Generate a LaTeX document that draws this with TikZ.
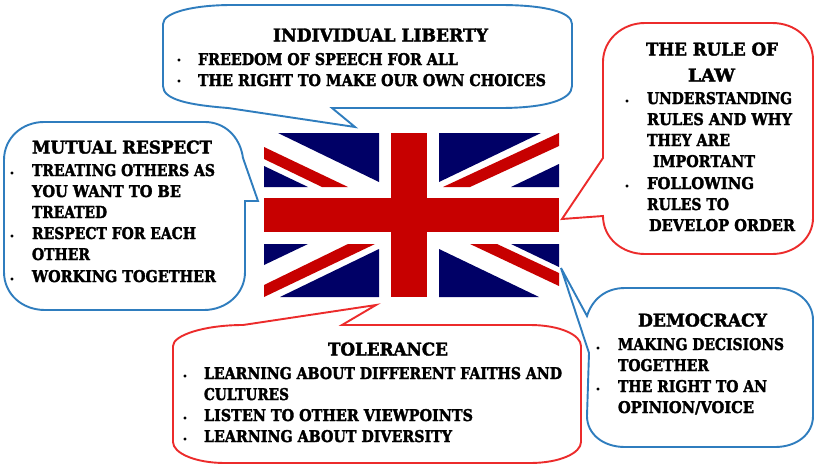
\documentclass[tikz,border=0pt]{standalone}
\usepackage{fontspec}
\usepackage{graphicx}
\setmainfont{DejaVu Serif}[BoldFont={DejaVu Serif Bold},BoldFeatures={FakeBold=2.2}]
\definecolor{bubbleblue}{HTML}{2F7DBE}
\definecolor{bubblered}{HTML}{EC2B2B}
\definecolor{flagblue}{HTML}{000066}
\definecolor{flagred}{HTML}{C70000}
% a line of text fitted to a measured width (pt) and cap height (pt)
\newcommand{\fitted}[3]{\raisebox{0pt}[#2pt][0pt]{\resizebox{#1pt}{#2pt}{\bfseries #3}}}
\newcommand{\ttl}[2]{\fitted{#1}{13}{#2}}
\newcommand{\bdy}[2]{\fitted{#1}{12}{#2}}
\tikzset{
  bubbleB/.style={draw=bubbleblue,line width=1.9pt,fill=white,line join=miter},
  bubbleR/.style={draw=bubblered,line width=1.9pt,fill=white,line join=miter},
  blueT/.style={fill=flagblue},
  redT/.style={fill=flagred},
  txt/.style={anchor=west,inner sep=0pt,outer sep=0pt,text=black},
  dot/.style={anchor=center,inner sep=0pt,font=\bfseries\fontsize{13pt}{13pt}\selectfont,text=black}
}
\begin{document}
\begin{tikzpicture}[x=1pt,y=-1pt]
\useasboundingbox (0,0) rectangle (814,464);
\fill[white] (0,0) rectangle (814,464);
% flag
\fill[blueT] (278,133) -- (379,133) -- (379,182) -- cycle;
\fill[blueT] (264,166) -- (308,187) -- (264,187) -- cycle;
\fill[blueT] (439,133) -- (541,133) -- (439,182) -- cycle;
\fill[blueT] (559,164) -- (559,187) -- (511,187) -- cycle;
\fill[blueT] (264,244) -- (308,244) -- (264,265) -- cycle;
\fill[blueT] (379,249) -- (379,297) -- (280,297) -- cycle;
\fill[blueT] (439,249) -- (539,297) -- (439,297) -- cycle;
\fill[blueT] (511,244) -- (559,244) -- (559,267) -- cycle;
\fill[redT] (264,147) -- (348,187) -- (322,187) -- (264,159) -- cycle;
\fill[redT] (559,133) -- (559,146) -- (470,187) -- (443,187) -- cycle;
\fill[redT] (348,244) -- (375,244) -- (264,297) -- (264,285) -- cycle;
\fill[redT] (470,244) -- (497,244) -- (559,273) -- (559,286) -- cycle;
\fill[redT] (391,133) rectangle (427,297);
\fill[redT] (264,198) rectangle (559,232);
% bubbles
\draw[bubbleB] (163,24) .. controls (163,12) and (195,5) .. (232,5) -- (500,5)
  .. controls (545,5) and (572,12) .. (572,24) -- (572,86)
  .. controls (572,100) and (545,108) .. (500,108) -- (332,108) -- (355,127) -- (228,108)
  .. controls (190,105) and (163,100) .. (163,86) -- cycle;
\draw[bubbleB] (4,160) .. controls (4,138) and (22,122) .. (44,122) -- (205,122)
  .. controls (224,122) and (240,136) .. (243,158) -- (258,201) -- (245,201) -- (245,272)
  .. controls (245,294) and (226,310) .. (204,310) -- (45,310)
  .. controls (22,310) and (4,294) .. (4,272) -- cycle;
\draw[bubbleR] (603,62) .. controls (603,40) and (622,23) .. (645,23) -- (772,23)
  .. controls (795,23) and (813,38) .. (813,60) -- (813,218)
  .. controls (813,238) and (795,254) .. (772,254) -- (645,254)
  .. controls (622,254) and (603,238) .. (603,216) -- (562,219) -- (603,158) -- cycle;
\draw[bubbleB] (587,316) .. controls (592,300) and (605,288) .. (625,288) -- (775,288)
  .. controls (797,288) and (813,302) .. (813,320) -- (813,416)
  .. controls (813,434) and (797,447) .. (775,447) -- (625,447)
  .. controls (603,447) and (587,434) .. (587,416) -- (589,353) -- (561,268) -- cycle;
\draw[bubbleR] (173,346) .. controls (173,335) and (205,325) .. (243,325) -- (376,305) -- (342,325) -- (530,325)
  .. controls (560,325) and (581,335) .. (581,346) -- (581,442)
  .. controls (581,453) and (560,463) .. (530,463) -- (225,463)
  .. controls (195,463) and (173,453) .. (173,442) -- cycle;
% individual liberty
\node[txt] (libT) at (273,35) {\ttl{215}{INDIVIDUAL LIBERTY}};
\node[dot] (libD1) at (179,60) {.};
\node[txt] (lib1) at (198,59) {\bdy{260}{FREEDOM OF SPEECH FOR ALL}};
\node[dot] (libD2) at (179,81) {.};
\node[txt] (lib2) at (198,80) {\bdy{348}{THE RIGHT TO MAKE OUR OWN CHOICES}};
% mutual respect
\node[txt] (mutT) at (32,147) {\ttl{180}{MUTUAL RESPECT}};
\node[dot] (mutD1) at (12,173) {.};
\node[txt] (mut1) at (32,170) {\bdy{183}{TREATING OTHERS AS}};
\node[txt] (mut2) at (32,191) {\bdy{149}{YOU WANT TO BE}};
\node[txt] (mut3) at (32,212) {\bdy{75}{TREATED}};
\node[dot] (mutD2) at (12,236) {.};
\node[txt] (mut4) at (32,233) {\bdy{164}{RESPECT FOR EACH}};
\node[txt] (mut5) at (32,254) {\bdy{58}{OTHER}};
\node[dot] (mutD3) at (12,279) {.};
\node[txt] (mut6) at (32,276) {\bdy{184}{WORKING TOGETHER}};
% rule of law
\node[txt] (lawT1) at (646,49) {\ttl{132}{THE RULE OF}};
\node[txt] (lawT2) at (688,75) {\ttl{47}{LAW}};
\node[dot] (lawD1) at (627,101) {.};
\node[txt] (law1) at (647,98) {\bdy{145}{UNDERSTANDING}};
\node[txt] (law2) at (647,119) {\bdy{145}{RULES AND WHY}};
\node[txt] (law3) at (647,140) {\bdy{83}{THEY ARE}};
\node[txt] (law4) at (653,161) {\bdy{102}{IMPORTANT}};
\node[dot] (lawD2) at (627,186) {.};
\node[txt] (law5) at (647,183) {\bdy{107}{FOLLOWING}};
\node[txt] (law6) at (647,204) {\bdy{82}{RULES TO}};
\node[txt] (law7) at (649,225) {\bdy{146}{DEVELOP ORDER}};
% democracy
\node[txt] (demT) at (638,320) {\ttl{129}{DEMOCRACY}};
\node[dot] (demD1) at (598,348) {.};
\node[txt] (dem1) at (618,344) {\bdy{166}{MAKING DECISIONS}};
\node[txt] (dem2) at (618,365) {\bdy{91}{TOGETHER}};
\node[dot] (demD2) at (598,389) {.};
\node[txt] (dem3) at (618,386) {\bdy{149}{THE RIGHT TO AN}};
\node[txt] (dem4) at (618,407) {\bdy{136}{OPINION/VOICE}};
% tolerance
\node[txt] (tolT) at (328,349) {\ttl{120}{TOLERANCE}};
\node[dot] (tolD1) at (185,376) {.};
\node[txt] (tol1) at (204,373) {\bdy{358}{LEARNING ABOUT DIFFERENT FAITHS AND}};
\node[txt] (tol2) at (204,394) {\bdy{85}{CULTURES}};
\node[dot] (tolD2) at (185,418) {.};
\node[txt] (tol3) at (204,415) {\bdy{269}{LISTEN TO OTHER VIEWPOINTS}};
\node[dot] (tolD3) at (185,439) {.};
\node[txt] (tol4) at (204,436) {\bdy{248}{LEARNING ABOUT DIVERSITY}};
\end{tikzpicture}
\end{document}
